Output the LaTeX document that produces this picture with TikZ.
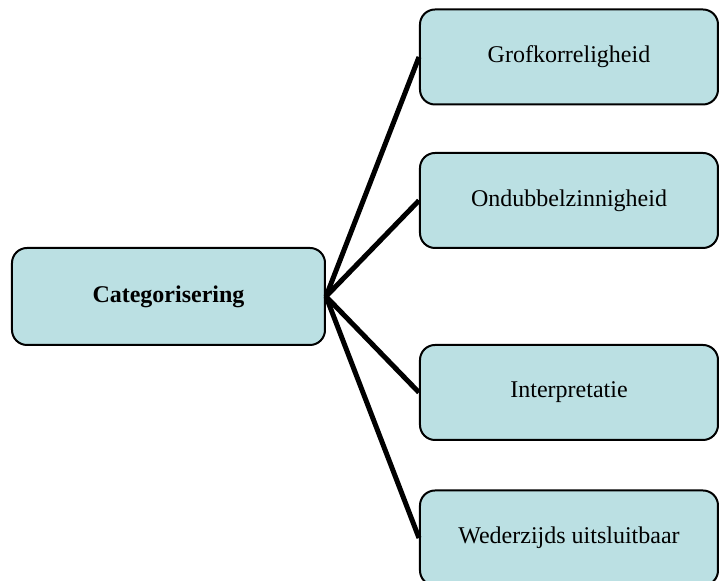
\documentclass[tikz,border=0pt]{standalone}
\usepackage{fontspec}
\setmainfont{Liberation Serif}
\definecolor{boxfill}{RGB}{187,224,227}
\begin{document}
\begin{tikzpicture}[x=0.5pt,y=-0.5pt]

    \tikzset{
      catbox/.style={
        draw,
        line width=1pt,
        fill=boxfill,
        rounded corners=7.5pt,
        font=\fontsize{12}{14}\selectfont,
        inner sep=0pt,
      },
      mainbox/.style={
        catbox,
        minimum width=156.5pt,
        minimum height=48.5pt,
        font=\fontsize{12}{14}\selectfont\bfseries,
      },
      subbox/.style={
        catbox,
        minimum width=149pt,
        minimum height=47.5pt,
      },
      link/.style={
        line width=2.5pt,
      },
    }
    \useasboundingbox (0,0) rectangle (720,581);
	\node[mainbox] (cat) at (168.5,296.5) {Categorisering};
	\node[subbox] (grof) at (569,57) {Grofkorreligheid};
	\node[subbox] (ondub) at (569,200.5) {Ondubbelzinnigheid};
	\node[subbox] (inter) at (569,392.5) {Interpretatie};
	\node[subbox] (weder) at (569,538) {Wederzijds uitsluitbaar};
	\foreach \n in {grof,ondub,inter,weder}
	  \draw[link] (cat.east)--(\n.west);

\end{tikzpicture}
\end{document}
